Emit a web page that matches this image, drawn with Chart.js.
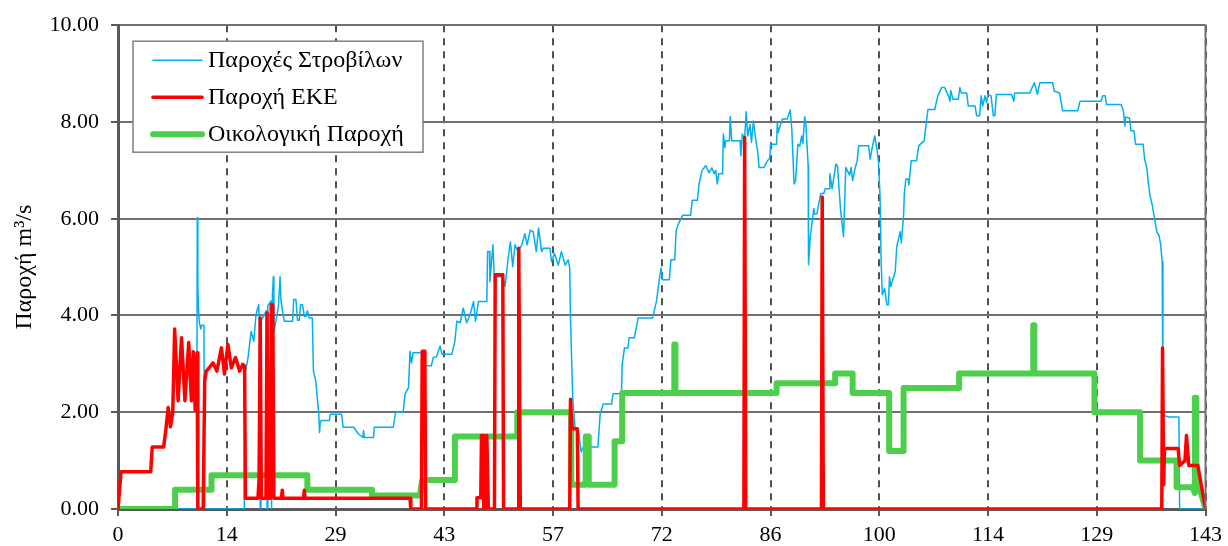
<!DOCTYPE html>
<html>
<head>
<meta charset="utf-8">
<script src="https://cdn.jsdelivr.net/npm/chart.js@4.4.1/dist/chart.umd.min.js"></script>
<style>
  html, body { margin: 0; padding: 0; background: #fff; }
  #wrap { width: 1228px; height: 546px; }
</style>
</head>
<body>
<div id="wrap"><canvas id="ChartFlow"></canvas></div>
<script>
// x tick labels (evenly spaced over 0..143)
const xTickLabels = ["0", "14", "29", "43", "57", "72", "86", "100", "114", "129", "143"];
const xMax = 143;

// Παροχές Στροβίλων
const turbX = [0, 10.35, 10.42, 10.5, 10.6, 10.7, 10.9, 11.0, 11.3, 11.4, 16.6, 16.7, 17.1, 17.5, 17.85, 18.15, 18.5, 18.6, 18.7, 18.8, 19.2, 19.5, 19.6, 19.7, 20.1, 20.2, 20.3, 20.43, 20.5, 20.78, 21.1, 21.31, 21.44, 21.87, 22.96, 23.1, 23.4, 23.6, 23.83, 24.0, 24.27, 24.5, 24.71, 24.9, 25.14, 25.55, 25.7, 26.0, 26.4, 26.5, 26.6, 26.8, 27.8, 27.9, 29.4, 29.6, 31.0, 31.6, 32.2, 32.3, 32.4, 33.6, 33.7, 36.2, 36.5, 37.5, 37.75, 38.2, 38.4, 38.6, 38.8, 39.95, 40.35, 41.2, 41.45, 41.9, 42.35, 42.6, 43.9, 44.3, 44.55, 45.0, 45.4, 45.85, 46.3, 46.75, 47.0, 47.4, 48.5, 48.6, 48.85, 48.9, 49.3, 49.5, 49.6, 50.6, 50.9, 51.3, 51.6, 51.9, 52.2, 52.6, 53.1, 53.5, 53.8, 54.2, 54.6, 55.0, 55.3, 55.7, 55.9, 56.8, 57.0, 57.4, 57.9, 58.3, 58.8, 59.2, 59.4, 59.5, 59.8, 60.1, 60.6, 60.9, 61.2, 63.1, 63.4, 63.8, 64.9, 65.1, 66.2, 66.3, 66.6, 67.05, 67.2, 67.9, 68.1, 68.4, 70.3, 70.8, 71.2, 71.4, 71.6, 72.5, 72.7, 73.2, 73.4, 73.8, 74.25, 75.3, 75.5, 76.2, 76.4, 76.8, 77.3, 77.7, 78.1, 78.4, 78.6, 78.8, 79.0, 79.5, 79.6, 79.8, 79.9, 80.4, 80.5, 80.7, 81.8, 81.9, 82.1, 82.4, 82.6, 82.8, 83.1, 83.3, 83.55, 83.85, 84.1, 84.3, 84.95, 85.4, 85.7, 85.8, 86.6, 86.7, 86.8, 87.35, 88.0, 88.4, 88.6, 88.9, 89.1, 89.4, 89.65, 89.9, 90.05, 90.3, 90.45, 90.75, 90.8, 91.05, 91.5, 91.6, 91.9, 92.4, 92.8, 93.0, 93.5, 93.6, 93.9, 94.4, 94.6, 95.0, 95.4, 95.7, 96.2, 96.4, 96.6, 96.9, 97.2, 97.4, 98.7, 98.9, 99.1, 99.5, 99.8, 100.0, 100.2, 100.35, 100.5, 100.8, 101.1, 101.3, 101.45, 101.6, 102.2, 102.4, 102.85, 103.0, 103.3, 103.4, 103.6, 103.9, 104.0, 104.3, 105.0, 105.3, 106.0, 106.5, 107.4, 107.8, 108.3, 108.7, 109.2, 109.4, 109.5, 109.8, 110.5, 110.7, 110.9, 111.6, 111.8, 112.7, 112.9, 113.3, 113.5, 113.7, 114.0, 114.2, 114.4, 114.8, 115.1, 115.3, 115.5, 117.5, 117.8, 117.9, 119.9, 120.2, 120.5, 120.9, 121.2, 122.9, 123.1, 123.8, 124.0, 124.2, 126.2, 126.5, 129.25, 129.5, 129.8, 130.0, 131.9, 132.2, 132.4, 132.5, 133.0, 133.2, 133.6, 133.8, 134.8, 135.0, 135.3, 135.45, 135.7, 136.0, 136.3, 136.6, 136.9, 137.1, 137.3, 137.4, 137.55, 138.2, 139.5, 139.6, 143];
const turbY = [0, 0, 6.02, 4.6, 4.1, 3.85, 3.72, 3.8, 3.8, 0, 0, 2.79, 3.13, 3.67, 3.47, 4.02, 4.23, 3.7, 0, 3.9, 4.0, 4.1, 0, 4.2, 4.3, 0, 4.4, 4.8, 3.64, 3.9, 4.19, 4.8, 4.29, 3.88, 3.88, 4.33, 4.33, 3.9, 3.9, 4.22, 4.22, 3.98, 3.98, 4.1, 3.95, 3.95, 2.85, 2.65, 1.96, 1.58, 1.8, 1.83, 1.83, 1.96, 1.96, 1.69, 1.69, 1.55, 1.48, 1.62, 1.48, 1.48, 1.69, 1.69, 2.0, 2.0, 2.38, 2.51, 3.26, 3.02, 3.23, 3.23, 2.96, 2.96, 3.13, 3.15, 3.37, 3.2, 3.2, 3.47, 3.88, 3.85, 4.15, 3.85, 4.02, 4.29, 3.88, 4.29, 4.29, 5.32, 5.32, 4.7, 5.46, 4.7, 4.8, 4.8, 4.6, 5.18, 5.52, 5.01, 5.46, 5.32, 5.46, 5.69, 5.46, 5.76, 5.73, 5.32, 5.81, 5.32, 5.39, 5.39, 5.11, 5.28, 5.04, 5.32, 5.04, 5.15, 4.98, 3.95, 2.24, 1.69, 1.55, 1.18, 1.28, 1.28, 1.96, 2.17, 2.17, 2.38, 2.38, 2.99, 3.33, 3.33, 3.54, 3.54, 3.71, 3.95, 3.95, 4.29, 4.77, 4.98, 4.74, 4.74, 5.15, 5.15, 5.76, 5.93, 6.07, 6.07, 6.38, 6.38, 6.72, 7.0, 7.1, 6.95, 7.05, 6.93, 7.0, 6.72, 6.93, 6.93, 7.75, 7.47, 7.61, 7.61, 8.11, 7.61, 7.61, 7.3, 7.75, 7.65, 8.21, 7.71, 7.95, 7.58, 8.02, 7.65, 7.41, 7.06, 7.06, 7.2, 7.25, 7.54, 7.54, 7.99, 7.78, 8.06, 8.06, 8.25, 7.85, 6.72, 6.78, 7.54, 7.5, 7.71, 7.55, 8.11, 7.95, 7.1, 5.05, 5.66, 6.21, 6.1, 6.1, 6.52, 6.52, 6.62, 6.62, 6.93, 6.62, 7.13, 7.1, 6.21, 5.63, 7.06, 6.9, 7.06, 6.79, 7.03, 7.2, 7.51, 7.51, 7.23, 7.41, 7.71, 7.44, 7.17, 6.48, 5.11, 4.43, 4.56, 4.22, 4.22, 4.8, 4.6, 4.91, 5.42, 5.73, 5.5, 6.07, 6.52, 6.82, 6.82, 6.7, 7.2, 7.2, 7.51, 7.61, 8.26, 8.26, 8.54, 8.71, 8.71, 8.54, 8.43, 8.65, 8.47, 8.47, 8.71, 8.6, 8.6, 8.33, 8.33, 8.13, 8.13, 8.54, 8.33, 8.54, 8.4, 8.57, 8.54, 8.13, 8.13, 8.57, 8.57, 8.43, 8.6, 8.6, 8.71, 8.81, 8.57, 8.81, 8.81, 8.64, 8.6, 8.43, 8.23, 8.23, 8.43, 8.43, 8.54, 8.54, 8.36, 8.36, 8.23, 7.92, 8.1, 8.08, 7.82, 7.82, 7.54, 7.54, 7.23, 7.03, 6.79, 6.48, 6.28, 6.0, 5.73, 5.65, 5.46, 5.11, 2.24, 1.93, 1.9, 1.9, 0, 0];

// Παροχή ΕΚΕ
const ekeX = [0, 0.4, 4.3, 4.5, 6.0, 6.3, 6.6, 6.9, 7.2, 7.45, 7.9, 8.35, 8.8, 9.3, 9.65, 9.9, 10.15, 10.4, 10.5, 11.2, 11.4, 11.6, 12.0, 12.5, 13.0, 13.6, 14.0, 14.45, 14.9, 15.45, 16.0, 16.4, 16.65, 16.75, 18.4, 18.55, 18.7, 18.85, 19.45, 19.6, 19.75, 20.05, 20.15, 20.25, 20.35, 20.5, 21.5, 21.6, 21.7, 24.4, 24.5, 24.6, 38.4, 38.5, 39.9, 40.0, 40.35, 40.45, 47.1, 47.2, 47.7, 47.8, 48.0, 48.1, 48.4, 48.5, 48.7, 49.5, 49.6, 50.6, 50.7, 52.6, 52.7, 52.9, 59.4, 59.5, 59.7, 60.4, 60.5, 82.3, 82.4, 82.55, 92.5, 92.6, 92.75, 137.25, 137.35, 137.5, 137.6, 139.4, 139.6, 140.3, 140.5, 140.8, 142.0, 142.1, 143];
const ekeY = [0, 0.77, 0.77, 1.28, 1.28, 1.65, 2.1, 1.7, 2.0, 3.72, 2.24, 3.54, 2.24, 3.44, 2.24, 3.25, 2.05, 3.23, 0, 0, 2.65, 2.85, 2.92, 3.02, 2.85, 3.33, 2.79, 3.4, 2.92, 3.13, 2.85, 2.99, 2.95, 0.22, 0.22, 0.6, 3.95, 0.22, 0.22, 4.05, 0.22, 0.22, 4.22, 0.5, 4.22, 0.22, 0.22, 0.39, 0.22, 0.22, 0.39, 0.22, 0.22, 0, 0, 3.26, 3.26, 0, 0, 0.23, 0.23, 1.52, 1.52, 0, 0, 1.52, 0, 0, 4.84, 4.84, 0, 0, 5.39, 0, 0, 2.27, 1.66, 1.66, 0, 0, 7.68, 0, 0, 6.45, 0, 0, 3.33, 0.5, 1.25, 1.25, 0.9, 1.0, 1.52, 0.9, 0.9, 0.8, 0];

// Οικολογική Παροχή
const ecoX = [0, 7.5, 7.5, 12.3, 12.3, 24.9, 24.9, 33.4, 33.4, 39.7, 40.0, 44.3, 44.3, 52.5, 52.5, 59.6, 59.6, 61.5, 61.5, 61.9, 61.9, 65.3, 65.3, 66.3, 66.3, 73.15, 73.15, 73.3, 73.3, 86.6, 86.6, 94.3, 94.3, 96.6, 96.6, 101.4, 101.4, 103.3, 103.3, 110.6, 110.6, 120.35, 120.35, 120.5, 120.5, 128.4, 128.4, 134.4, 134.4, 139.2, 139.2, 141.3, 141.6, 141.6, 141.8, 141.8, 142.2, 143];
const ecoY = [0, 0, 0.4, 0.4, 0.7, 0.7, 0.4, 0.4, 0.28, 0.28, 0.6, 0.6, 1.5, 1.5, 2.0, 2.0, 0.5, 0.5, 1.5, 1.5, 0.5, 0.5, 1.4, 1.4, 2.4, 2.4, 3.4, 3.4, 2.4, 2.4, 2.6, 2.6, 2.8, 2.8, 2.4, 2.4, 1.2, 1.2, 2.5, 2.5, 2.8, 2.8, 3.8, 3.8, 2.8, 2.8, 2.0, 2.0, 1.0, 1.0, 0.45, 0.45, 0.33, 2.3, 2.3, 0.45, 0.45, 0];

const toPoints = (xs, ys) => xs.map((x, i) => ({ x: x, y: ys[i] }));

const FONT = "'Liberation Serif', 'Times New Roman', serif";
const GRID = "#707070";
const AXIS = "#595959";

// legend drawn as a framed box inside the plot, like the original
const boxLegend = {
  id: "boxLegend",
  afterDatasetsDraw(chart) {
    const { ctx, chartArea } = chart;
    const x0 = chartArea.left + 15;
    const y0 = chartArea.top + 16;
    ctx.save();
    ctx.fillStyle = "#fff";
    ctx.fillRect(x0, y0, 290, 111);
    ctx.strokeStyle = "#7f7f7f";
    ctx.lineWidth = 1.5;
    ctx.strokeRect(x0, y0, 290, 111);
    ctx.font = "24px " + FONT;
    ctx.textBaseline = "middle";
    ctx.lineCap = "round";
    chart.data.datasets.forEach((ds, i) => {
      const cy = y0 + 19 + i * 37;
      ctx.strokeStyle = ds.borderColor;
      ctx.lineWidth = ds.borderWidth;
      ctx.beginPath();
      ctx.moveTo(x0 + 20, cy);
      ctx.lineTo(x0 + 69, cy);
      ctx.stroke();
      ctx.fillStyle = "#000";
      ctx.fillText(ds.label, x0 + 75, cy + 1);
    });
    // right frame of the plot
    ctx.strokeStyle = GRID;
    ctx.lineWidth = 2;
    ctx.beginPath();
    ctx.moveTo(chartArea.right, chartArea.top);
    ctx.lineTo(chartArea.right, chartArea.bottom);
    ctx.stroke();
    ctx.restore();
  }
};

const ChartFlow = document.getElementById("ChartFlow");

new Chart(ChartFlow, {
  type: "line",
  data: {
    datasets: [
      {
        label: "Παροχές Στροβίλων",
        data: toPoints(turbX, turbY),
        borderColor: "#00B0F0",
        borderWidth: 1.5,
        order: 3,
      },
      {
        label: "Παροχή ΕΚΕ",
        data: toPoints(ekeX, ekeY),
        borderColor: "#FF0000",
        borderWidth: 3.5,
        order: 1,
      },
      {
        label: "Οικολογική Παροχή",
        data: toPoints(ecoX, ecoY),
        borderColor: "#4CD04C",
        borderWidth: 6,
        order: 2,
      },
    ],
  },
  options: {
    responsive: true,
    maintainAspectRatio: false,
    animation: false,
    elements: {
      point: { radius: 0, hoverRadius: 0 },
      line: { tension: 0, borderJoinStyle: "round", borderCapStyle: "round" },
    },
    layout: { padding: { left: 0, top: 22, right: 18, bottom: 0 } },
    plugins: {
      legend: { display: false },
      tooltip: { enabled: false },
    },
    scales: {
      x: {
        type: "linear",
        min: 0,
        max: xMax,
        afterBuildTicks: (scale) => {
          scale.ticks = xTickLabels.map((t, i) => ({ value: (i * xMax) / (xTickLabels.length - 1) }));
        },
        afterFit: (scale) => { scale.height = 37; },
        ticks: {
          autoSkip: false,
          maxRotation: 0,
          padding: 6,
          color: "#000",
          font: { family: FONT, size: 22 },
          callback: (v, i) => xTickLabels[i],
        },
        grid: {
          color: "#505050",
          lineWidth: 2,
          tickLength: 7,
          tickColor: AXIS,
          tickWidth: 2,
        },
        border: { color: AXIS, width: 3, dash: [7, 6] },
      },
      y: {
        min: 0,
        max: 10,
        afterFit: (scale) => { scale.width = 118; },
        ticks: {
          stepSize: 2,
          padding: 12,
          color: "#000",
          font: { family: FONT, size: 22 },
          callback: (v) => v.toFixed(2),
        },
        grid: {
          color: GRID,
          lineWidth: 2,
          tickLength: 7,
          tickColor: AXIS,
          tickWidth: 2,
        },
        border: { color: AXIS, width: 3 },
        title: {
          display: true,
          text: "Παροχή m³/s",
          color: "#000",
          font: { family: FONT, size: 24 },
          padding: { top: 10, bottom: 0 },
        },
      },
    },
  },
  plugins: [boxLegend],
});
</script>
</body>
</html>
